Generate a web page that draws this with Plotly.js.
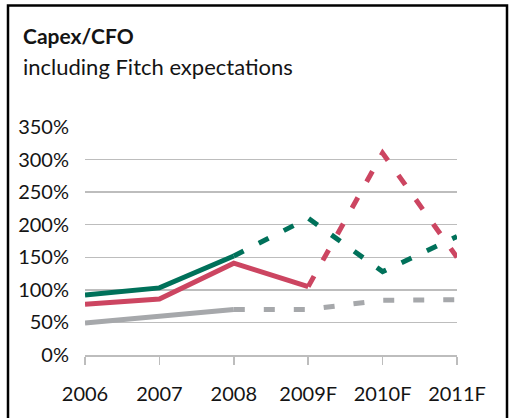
<!DOCTYPE html>
<html>
<head>
<meta charset="utf-8">
<script src="https://cdn.plot.ly/plotly-3.0.1.min.js"></script>
<style>
  html, body { margin: 0; padding: 0; background: #fff; }
  #chart { width: 511px; height: 418px; }
</style>
</head>
<body>
<div id="chart"></div>
<script>
const categories = ['2006', '2007', '2008', '2009F', '2010F', '2011F'];
const greenValues = [92, 103, 152, 210, 128, 182];
const redValues = [78, 86, 141, 105, 310, 150];
const greyValues = [49, 59, 70, 70, 84, 85];
// index of last actual (non-forecast) point for each series
const greenLastActual = 2;
const redLastActual = 3;
const greyLastActual = 2;
const titleText = 'Capex/CFO';
const subtitleText = 'including Fitch expectations';

const FONT = 'Lato, "Open Sans", sans-serif';
const W = 511, H = 418;
const M = { l: 85, r: 54, t: 127, b: 63 };
const PW = W - M.l - M.r, PH = H - M.t - M.b;
const px2x = p => (p - M.l) / PW;
const px2y = p => (H - M.b - p) / PH;

function split(values, lastActual, color, dash) {
  const solidY = values.map((v, i) => i <= lastActual ? v : null);
  const dashY = values.map((v, i) => i >= lastActual ? v : null);
  return [
    { x: categories, y: solidY, type: 'scatter', mode: 'lines', line: { color: color, width: 5 }, hoverinfo: 'skip', connectgaps: false },
    { x: categories, y: dashY, type: 'scatter', mode: 'lines', line: { color: color, width: 5, dash: dash }, hoverinfo: 'skip', connectgaps: false }
  ];
}

const data = [
  ...split(greyValues, greyLastActual, '#a6a8ab', '11px,19px'),
  ...split(redValues, redLastActual, '#cc4561', '12px,18px'),
  ...split(greenValues, greenLastActual, '#00715a', '11px,17px')
];

const layout = {
  width: W, height: H,
  margin: M,
  paper_bgcolor: '#fff', plot_bgcolor: '#fff',
  showlegend: false,
  font: { family: FONT, size: 20, color: '#141414' },
  xaxis: {
    type: 'category',
    range: [0, categories.length - 1],
    showgrid: false,
    showline: true, linecolor: '#bdbdbd', linewidth: 1.5,
    ticks: 'outside', ticklen: 8, tickwidth: 1.5, tickcolor: '#bdbdbd',
    ticklabelstandoff: 12,
    tickfont: { family: FONT, size: 20, color: '#141414' },
    fixedrange: true
  },
  yaxis: {
    range: [0, 350],
    dtick: 50, tick0: 0,
    ticksuffix: '%',
    showgrid: true, gridcolor: '#bdbdbd', gridwidth: 1.5,
    zeroline: false, showline: false,
    ticks: '',
    ticklabelstandoff: 15,
    tickfont: { family: FONT, size: 20, color: '#141414' },
    fixedrange: true
  },
  annotations: [
    { text: '<b>' + titleText + '</b>', xref: 'paper', yref: 'paper', x: px2x(21), y: px2y(21), xanchor: 'left', yanchor: 'top', showarrow: false, font: { family: FONT, size: 21, color: '#141414' } },
    { text: subtitleText, xref: 'paper', yref: 'paper', x: px2x(21), y: px2y(51), xanchor: 'left', yanchor: 'top', showarrow: false, font: { family: FONT, size: 22, color: '#141414' } }
  ],
  shapes: [
    { type: 'path', xref: 'paper', yref: 'paper',
      path: 'M ' + px2x(8) + ' ' + px2y(440) + ' L ' + px2x(8) + ' ' + px2y(5.5) + ' L ' + px2x(507) + ' ' + px2y(5.5) + ' L ' + px2x(507) + ' ' + px2y(440),
      line: { color: '#000', width: 2.5 }, layer: 'above' }
  ]
};

Plotly.newPlot('chart', data, layout, { staticPlot: true, displayModeBar: false });
</script>
</body>
</html>
